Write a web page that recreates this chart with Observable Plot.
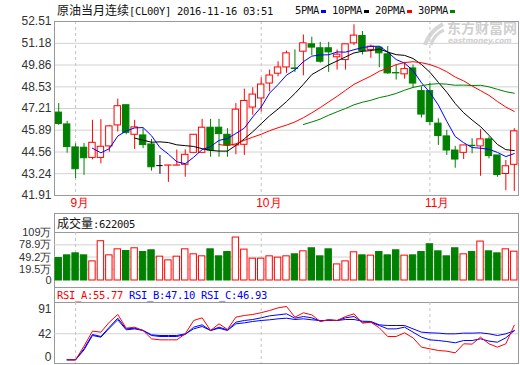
<!DOCTYPE html>
<html><head><meta charset="utf-8">
<script src="https://cdn.jsdelivr.net/npm/d3@7"></script>
<script src="https://cdn.jsdelivr.net/npm/@observablehq/plot@0.6"></script>
<style>
body{margin:0;background:#fff;}
#root{position:relative;width:520px;height:365px;overflow:hidden;font-family:"Liberation Sans",Arial,sans-serif;background:#fff;}
.abs{position:absolute;white-space:nowrap;}
.mono{font-family:"DejaVu Sans Mono",monospace;font-size:10.5px;letter-spacing:-0.32px;}
.cjk{font-family:"Noto Sans CJK SC",sans-serif;font-size:12px;}
.box{position:absolute;border:1px solid #999;box-sizing:border-box;}
.sep{position:absolute;height:1px;background:#999;}
.sq{display:inline-block;width:5px;height:3px;margin-left:2px;margin-right:6px;vertical-align:middle;}
svg{position:absolute;left:0;}
</style></head>
<body><div id="root"></div>
<script>
// ---------- data ----------
const openP  = [46.96,46.24,44.84,44.82,44.20,44.20,44.90,46.18,47.41,45.61,45.57,45.02,43.73,43.73,43.73,43.78,44.51,44.51,46.04,46.04,45.61,44.96,45.00,47.27,47.82,48.73,49.33,49.71,49.65,50.67,51.12,50.88,50.88,50.33,50.16,51.18,51.63,50.78,50.92,50.51,49.37,49.29,49.65,48.27,48.27,46.29,45.51,44.65,44.51,44.94,44.90,45.33,44.35,43.22,43.78];
const highP  = [47.51,46.43,45.06,45.08,46.49,46.53,46.18,47.78,47.41,46.49,45.98,45.33,44.35,43.74,44.68,44.69,45.61,46.55,46.55,46.55,45.98,47.51,48.39,48.47,49.08,49.55,50.06,50.71,50.78,51.69,51.55,51.24,51.24,50.78,51.12,52.31,51.90,51.08,50.98,50.98,49.86,50.02,49.86,48.53,48.73,46.59,45.88,44.90,44.96,45.37,45.92,45.47,44.35,44.04,45.98];
const lowP   = [46.18,44.49,42.94,43.14,44.08,43.84,44.55,45.78,45.61,44.71,44.76,43.39,43.20,42.71,43.73,43.02,44.51,44.51,44.24,44.24,44.24,44.39,44.35,46.80,47.00,48.22,49.14,49.35,49.41,49.20,50.43,49.96,49.41,49.55,49.55,51.04,50.47,50.27,49.69,49.29,48.94,49.00,48.43,46.63,46.18,44.96,44.35,43.57,44.10,44.45,43.08,44.14,43.02,42.20,42.16];
const closeP = [46.27,44.86,43.51,44.18,45.12,44.88,46.12,47.35,45.73,46.06,44.98,43.63,43.73,43.74,43.74,44.39,45.61,46.04,44.65,45.65,44.96,47.14,47.67,48.06,48.67,49.22,49.71,50.57,49.62,51.18,50.92,50.06,50.63,50.49,51.12,51.65,50.71,50.98,50.57,49.35,49.35,49.61,48.73,46.84,46.39,45.53,44.65,44.10,44.96,44.92,45.33,44.31,43.16,43.69,45.82];
const volume = [46.7,53.3,58.2,53.3,38.6,87.7,53.3,68.0,63.9,70.5,61.4,65.6,50.1,41.1,50.1,68.0,55.8,50.9,68.0,50.9,61.4,96.7,67.3,45.2,45.2,50.9,47.7,50.9,55.8,63.1,70.5,50.9,68.0,31.2,38.6,60.7,53.3,52.6,61.4,53.3,65.6,52.6,53.3,61.4,80.3,63.1,50.9,70.5,55.8,61.4,86.9,63.1,58.2,68.0,62.2];
const rsiA = [null,0,0,22,46.2,44.6,60.7,73.1,51.0,52.6,47.3,33.8,32.2,32.2,32.2,41.9,63.4,67.7,47.3,58.0,48.9,68.8,71.5,73.1,76.0,79.5,83.8,86.0,68.8,75.8,72.5,61.8,64.5,63.4,69.8,74.1,59.1,60.7,51.6,37.6,37.6,43.5,35.4,20.4,17.7,15.0,13.9,11.2,25.8,25.3,36.5,25.8,20.4,25.8,55.77];
const rsiB = [null,0,0,18,40.8,37.6,52.6,67.1,49.9,51.0,47.3,39.2,37.6,37.6,37.6,40.8,52.6,56.4,47.3,52.6,48.3,60.7,63.4,65.0,67.7,70.9,72.5,74.1,67.1,69.8,67.7,62.3,64.5,63.4,67.7,69.8,60.7,60.7,55.3,49.9,49.9,52.6,44.6,36.5,32.2,31.1,29.5,27.4,31.1,31.1,33.8,30.1,28.4,35.4,47.10];
const rsiC = [null,0,0,16,39.2,36.5,51.0,64.5,48.3,49.9,47.3,40.3,39.2,39.2,39.2,41.9,49.9,53.7,47.3,51.0,47.3,58.0,59.6,61.8,63.4,64.5,66.1,67.1,65.0,66.1,64.5,63.4,63.4,63.4,65.0,65.0,62.3,61.8,56.4,55.3,55.3,55.3,49.9,44.6,43.5,43.0,41.9,41.9,43.0,43.0,43.5,41.9,39.2,41.9,46.93];

const priceTicks = [52.51,51.18,49.86,48.53,47.21,45.89,44.56,43.24,41.91];
const volTicks = [109,78.9,49.2,19.5];
const volZero = [0];
const volGrid = [78.9,49.2,19.5];
const rsiTicks = [91,42,0];
const monthIdx = [2,24,44];
const monthLabels = ["9月","10月","11月"];
const maNames = ["5PMA","10PMA","20PMA","30PMA"];
const maPeriods = [5,10,20,30];
const maColors = ["#0000ff","#000000","#ff0000","#008000"];
const titleCN = "原油当月连续";
const titleCode = "[CL00Y] 2016-11-16 03:51";
const volTitle = "成交量";
const volValue = ":622005";
const rsiNames = ["RSI_A","RSI_B","RSI_C"];
const rsiColors = ["#ff0000","#0000ff","#0000ff"];

// ---------- setup ----------
const RED = "#ff0000", GREEN = "#008000", FRAME = "#999", GRID = "#d2d2d2", DASH = "#c4c4c4";
const n = closeP.length;
const rows = d3.range(n).map(i => ({i, open: openP[i], high: highP[i], low: lowP[i], close: closeP[i], vol: volume[i], a: rsiA[i], b: rsiB[i], c: rsiC[i]}));
const months = monthIdx.map((idx, j) => ({idx, label: monthLabels[j]}));
const candleColor = d => d.close > d.open ? RED : d.close < d.open ? GREEN : "#000";
const volColor = d => d.close >= d.open ? RED : GREEN;
const bodyFill = d => d.close >= d.open ? "#fff" : GREEN;
const volFloor = -8;

const root = document.getElementById("root");
function add(html){ root.insertAdjacentHTML("beforeend", html); }

// panel boxes
add(`<div class="box" style="left:54px;top:213px;width:465px;height:75px"></div>`);
add(`<div class="sep" style="left:54px;top:232px;width:465px"></div>`);
add(`<div class="box" style="left:54px;top:287px;width:465px;height:77px"></div>`);
add(`<div class="sep" style="left:54px;top:302px;width:465px"></div>`);

// watermark
add(`<svg width="24" height="26" style="left:422px;top:21px" viewBox="0 0 24 26"><path d="M3 24 C6 14 12 8 21 3" stroke="#d6d6d6" stroke-width="4" fill="none"/><path d="M9 24 C11 17 15 12 22 9" stroke="#d6d6d6" stroke-width="3" fill="none"/></svg>`);
add(`<div class="abs" style="left:447px;top:20px;font-family:'Noto Sans CJK SC';font-weight:bold;font-size:14px;line-height:15px;color:#cfcfcf">东方财富网</div>`);
add(`<div class="abs" style="left:448px;top:36px;font-family:'DejaVu Sans';font-weight:bold;font-style:italic;font-size:7.5px;line-height:9px;letter-spacing:-0.2px;color:#d2d2d2">eastmoney.com</div>`);

const common = {width: 520, marginLeft: 54, marginRight: 2,
  style: {background: "transparent", fontFamily: "'Liberation Sans', Arial, sans-serif", fontSize: "12px", color: "#333", overflow: "visible"}};
const xOpt = {type: "band", domain: d3.range(n), paddingInner: 0.24, paddingOuter: 0.12, round: false, axis: null};
const ax = {tickSize: 0, tickPadding: 3, fill: "#333", label: null};

// price panel
const price = Plot.plot({...common, height: 213, marginTop: 21, marginBottom: 18,
  x: xOpt, y: {domain: [41.91, 52.51]},
  marks: [
    Plot.gridY(priceTicks, {stroke: GRID, strokeOpacity: 1}),
    Plot.ruleX(monthIdx, {x: d => d, stroke: DASH, strokeDasharray: "3,3"}),
    Plot.axisY(priceTicks, {...ax, tickFormat: d => d.toFixed(2)}),
    Plot.text(months, {x: "idx", text: "label", frameAnchor: "bottom", dy: 11, dx: -5, textAnchor: "start", fill: RED, fontSize: 12}),
    Plot.ruleX(rows, {x: "i", y1: "low", y2: "high", stroke: candleColor}),
    Plot.barY(rows, {x: "i", y1: "open", y2: "close", fill: bodyFill, stroke: candleColor}),
    Plot.tickY(rows.filter(d => d.open === d.close), {x: "i", y: "close", stroke: "#000"}),
    ...maPeriods.map((k, j) => Plot.lineY(rows, Plot.windowY({k, anchor: "end", strict: true}, {x: "i", y: "close", stroke: maColors[j], strokeWidth: 1}))),
    Plot.frame({stroke: FRAME})
  ]});
price.style.top = "0px";
root.appendChild(price);

// volume panel
const vol = Plot.plot({...common, height: 70, marginTop: 12, marginBottom: 10,
  x: xOpt, y: {domain: [volFloor, 109]},
  marks: [
    Plot.gridY(volGrid, {stroke: GRID, strokeOpacity: 1}),
    Plot.ruleX(monthIdx, {x: d => d, stroke: DASH, strokeDasharray: "3,3"}),
    Plot.axisY(volTicks, {...ax, fontSize: 11, tickFormat: d => d + "万"}),
    Plot.axisY(volZero, {...ax, fontSize: 11, tickFormat: d => String(d), dy: 3}),
    Plot.barY(rows, {x: "i", y1: volFloor, y2: "vol", fill: bodyFill, stroke: volColor})
  ]});
vol.style.top = "220px";
root.appendChild(vol);

// rsi panel
const rsi = Plot.plot({...common, height: 74, marginTop: 12, marginBottom: 1,
  x: xOpt, y: {domain: [-5.97, 92.42]},
  marks: [
    Plot.gridY([42], {stroke: GRID, strokeOpacity: 1}),
    Plot.ruleX(monthIdx, {x: d => d, stroke: DASH, strokeDasharray: "3,3"}),
    Plot.axisY([rsiTicks[1]], ax),
    Plot.axisY([rsiTicks[0]], {...ax, dy: 6}),
    Plot.axisY([rsiTicks[2]], {...ax, dy: -3}),
    Plot.lineY(rows, {x: "i", y: "c", stroke: rsiColors[2], strokeWidth: 1}),
    Plot.lineY(rows, {x: "i", y: "b", stroke: rsiColors[1], strokeWidth: 1}),
    Plot.lineY(rows, {x: "i", y: "a", stroke: rsiColors[0], strokeWidth: 1})
  ]});
rsi.style.top = "290px";
root.appendChild(rsi);

// title & legend
add(`<div class="abs" style="left:57px;top:2px;line-height:16px;color:#111"><span class="cjk">${titleCN}</span><span class="mono">${titleCode}</span></div>`);
add(`<div class="abs mono" style="left:295px;top:2px;line-height:16px;color:#111">` +
  maNames.map((m, j) => `${m}<span class="sq" style="background:${maColors[j]}"></span>`).join("") + `</div>`);
add(`<div class="abs" style="left:57px;top:215px;line-height:15px;color:#111"><span class="cjk">${volTitle}</span><span class="mono">${volValue}</span></div>`);
const lastVals = [rsiA[n-1], rsiB[n-1], rsiC[n-1]];
add(`<div class="abs mono" style="left:57px;top:288px;line-height:14px">` +
  rsiNames.map((r, j) => `<span style="color:${rsiColors[j]}">${r}:${lastVals[j].toFixed(2)}</span>`).join(" ") + `</div>`);
</script>
</body></html>
